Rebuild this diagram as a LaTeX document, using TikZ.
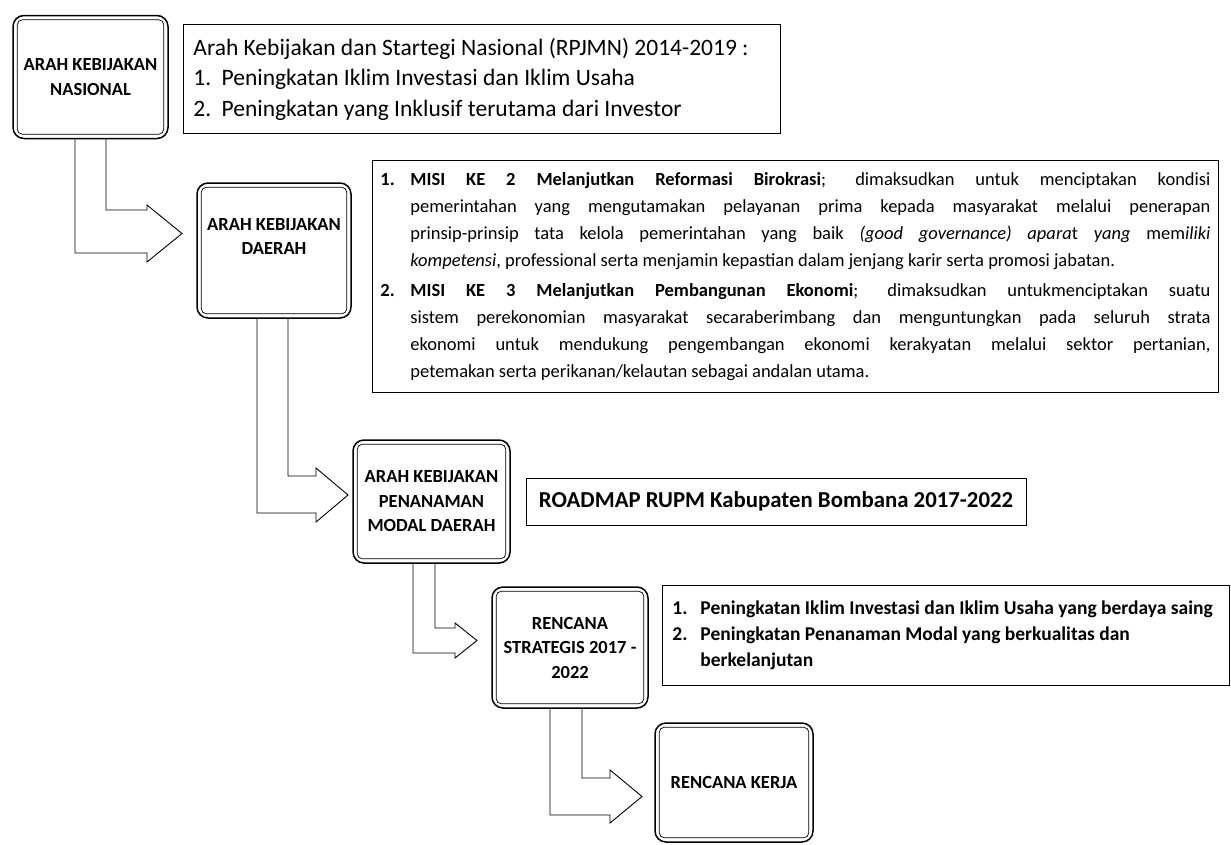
\documentclass[tikz,border=0pt]{standalone}
\usepackage{fontspec}
\setmainfont{Carlito}
\usetikzlibrary{calc}
\pgfdeclarelayer{bg}
\pgfsetlayers{bg,main}
\newcommand{\bentarr}[9]{\draw[barrow] (#1,#3) -- (#1,#5) -- (#6,#5) -- (#6,#8) -- (#9,{(#7+#8)/2}) -- (#6,#7) -- (#6,#4) -- (#2,#4) -- (#2,#3) -- cycle;}
\begin{document}
\begin{tikzpicture}[x=1pt,y=-1pt,
  labelbox/.style={draw, line width=1.5pt, rounded corners=11pt, fill=white, align=center,
    font=\fontsize{18.5}{24.5}\selectfont\bfseries, inner sep=0pt},
  textbox/.style={draw, line width=0.9pt, anchor=north west, inner ysep=0pt, fill=white},
  barrow/.style={draw, line width=0.9pt, fill=white, line join=miter},
  innerline/.style={line width=0.7pt, rounded corners=5pt}
]
\useasboundingbox (0,0) rectangle (1231,844);
\begin{pgfonlayer}{bg}
\fill[white] (0,0) rectangle (1231,844);
\end{pgfonlayer}

% label boxes
\node[labelbox, minimum width=155pt, minimum height=123pt] (A) at (90.5,77) {ARAH KEBIJAKAN\\NASIONAL};
\node[labelbox, minimum width=154pt, minimum height=135pt] (B) at (274,250.5) {ARAH KEBIJAKAN\\DAERAH\\[4pt]};
\node[labelbox, minimum width=157pt, minimum height=123pt] (C) at (431.5,501.5) {ARAH KEBIJAKAN\\PENANAMAN\\MODAL DAERAH};
\node[labelbox, minimum width=156pt, minimum height=121pt] (D) at (570,647.5) {RENCANA\\STRATEGIS 2017 -\\2022};
\node[labelbox, minimum width=158pt, minimum height=119pt] (E) at (734,782.5) {RENCANA KERJA};
\foreach \n in {A,B,C,D,E}
  \draw[innerline] ([xshift=5pt,yshift=-5pt]\n.north west) rectangle ([xshift=-5pt,yshift=5pt]\n.south east);

% text boxes
\node[textbox, inner xsep=10pt, text width=577pt, minimum height=109pt, align=flush left,
  font=\fontsize{23.5}{30.5}\selectfont] (T1) at (183,24)
  {Arah Kebijakan dan Startegi Nasional (RPJMN) 2014-2019 :\\
   \makebox[1.2em][l]{1.}Peningkatan Iklim Investasi dan Iklim Usaha\\
   \makebox[1.2em][l]{2.}Peningkatan yang Inklusif terutama dari Investor};

\node[textbox, inner xsep=8pt, text width=830pt, minimum height=232pt, align=justify,
  font=\fontsize{18.5}{27}\selectfont] (T2) at (372,160)
  {\hyphenpenalty=10000\emergencystretch=20pt
   \hangindent=30pt\hangafter=1\noindent\makebox[30pt][l]{\textbf{1.}}\textbf{MISI KE 2 Melanjutkan Reformasi Birokrasi}; dimaksudkan untuk menciptakan kondisi\linebreak
   pemerintahan yang mengutamakan pelayanan prima kepada masyarakat melalui penerapan\linebreak
   prinsip-prinsip tata kelola pemerintahan yang baik \textit{(good governance) apara}t \textit{yang} mem\textit{iliki}\linebreak
   \textit{kompetensi}, professional serta menjamin kepastian dalam jenjang karir serta promosi jabatan.\par
   \vspace{3pt}
   \hangindent=30pt\hangafter=1\noindent\makebox[30pt][l]{\textbf{2.}}\textbf{MISI KE 3 Melanjutkan Pembangunan Ekonomi}; dimaksudkan untukmenciptakan suatu\linebreak
   sistem perekonomian masyarakat secaraberimbang dan menguntungkan pada seluruh strata\linebreak
   ekonomi untuk mendukung pengembangan ekonomi kerakyatan melalui sektor pertanian,\linebreak
   petemakan serta perikanan/kelautan sebagai andalan utama.\par\vspace{-13pt}};

\node[draw, line width=0.9pt, fill=white, minimum width=500pt, minimum height=47pt, inner sep=0pt,
  font=\fontsize{22.8}{27}\selectfont\bfseries] (T3) at (776,501.5)
  {ROADMAP RUPM Kabupaten Bombana 2017-2022};

\node[textbox, inner xsep=0pt, text width=567pt, minimum height=100pt, align=flush left,
  font=\fontsize{19.5}{26}\selectfont\bfseries] (T4) at (662,585)
  {\leftskip=10pt\hyphenpenalty=10000
   \hangindent=28pt\hangafter=1\noindent\makebox[28pt][l]{1.}\mbox{Peningkatan Iklim Investasi dan Iklim Usaha yang berdaya saing}\par
   \hangindent=28pt\hangafter=1\noindent\makebox[28pt][l]{2.}Peningkatan Penanaman Modal yang berkualitas dan\break berkelanjutan\par};

% bent arrows
\begin{pgfonlayer}{bg}
\bentarr{75}{106}{138}{210}{253}{147}{205}{262}{182}
\bentarr{257}{288}{318}{476}{513}{316}{468}{522}{348}
\bentarr{413}{435}{563}{628}{653}{455}{623}{658}{477}
\bentarr{550}{582}{708}{778}{815}{610}{770}{823}{642}
\end{pgfonlayer}
\end{tikzpicture}
\end{document}
